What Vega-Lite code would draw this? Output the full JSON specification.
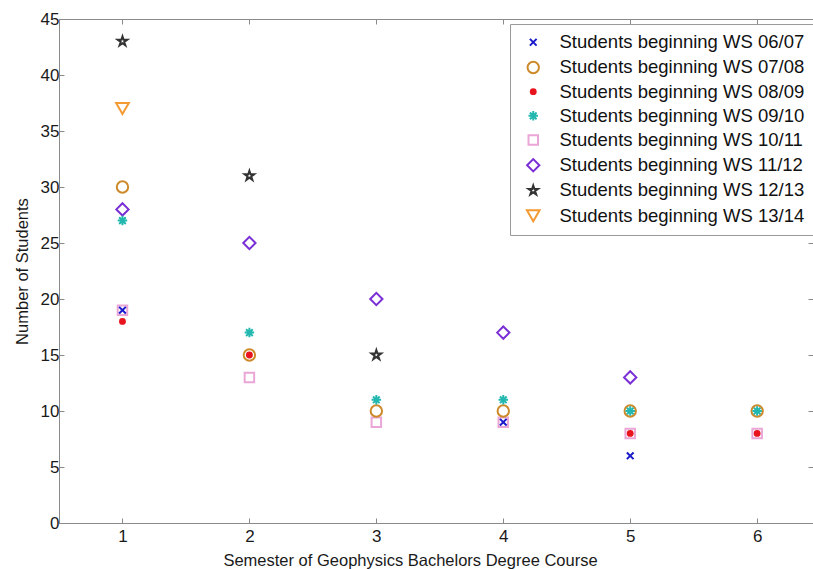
{
  "$schema": "https://vega.github.io/schema/vega-lite/v6.json",
  "width": 754,
  "height": 504,
  "autosize": {"type": "none"},
  "padding": {"left": 59, "top": 19, "right": 0, "bottom": 46},
  "background": "white",
  "config": {
    "font": "Liberation Sans",
    "view": {"stroke": "#8a8a8a", "strokeWidth": 1},
    "axis": {
      "labelFontSize": 17,
      "labelColor": "#1a1a1a",
      "titleFontSize": 16.5,
      "titleFontWeight": "normal",
      "titleColor": "#1a1a1a",
      "domainColor": "#8a8a8a",
      "tickColor": "#8a8a8a",
      "grid": false
    },
    "legend": {
      "orient": "none",
      "legendX": 451,
      "legendY": 5,
      "fillColor": "white",
      "strokeColor": "#999999",
      "padding": 9,
      "labelFontSize": 18.5,
      "labelColor": "#111111",
      "labelLimit": 500,
      "rowPadding": 5.2,
      "symbolStrokeWidth": 2,
      "labelOffset": 17,
      "symbolOffset": 5
    }
  },
  "data": {
    "values": [
      {"s": "Students beginning WS 10/11", "sem": 1, "n": 19},
      {"s": "Students beginning WS 10/11", "sem": 2, "n": 13},
      {"s": "Students beginning WS 10/11", "sem": 3, "n": 9},
      {"s": "Students beginning WS 10/11", "sem": 4, "n": 9},
      {"s": "Students beginning WS 10/11", "sem": 5, "n": 8},
      {"s": "Students beginning WS 10/11", "sem": 6, "n": 8},
      {"s": "Students beginning WS 07/08", "sem": 1, "n": 30},
      {"s": "Students beginning WS 07/08", "sem": 2, "n": 15},
      {"s": "Students beginning WS 07/08", "sem": 3, "n": 10},
      {"s": "Students beginning WS 07/08", "sem": 4, "n": 10},
      {"s": "Students beginning WS 07/08", "sem": 5, "n": 10},
      {"s": "Students beginning WS 07/08", "sem": 6, "n": 10},
      {"s": "Students beginning WS 11/12", "sem": 1, "n": 28},
      {"s": "Students beginning WS 11/12", "sem": 2, "n": 25},
      {"s": "Students beginning WS 11/12", "sem": 3, "n": 20},
      {"s": "Students beginning WS 11/12", "sem": 4, "n": 17},
      {"s": "Students beginning WS 11/12", "sem": 5, "n": 13},
      {"s": "Students beginning WS 12/13", "sem": 1, "n": 43},
      {"s": "Students beginning WS 12/13", "sem": 2, "n": 31},
      {"s": "Students beginning WS 12/13", "sem": 3, "n": 15},
      {"s": "Students beginning WS 13/14", "sem": 1, "n": 37},
      {"s": "Students beginning WS 09/10", "sem": 1, "n": 27},
      {"s": "Students beginning WS 09/10", "sem": 2, "n": 17},
      {"s": "Students beginning WS 09/10", "sem": 3, "n": 11},
      {"s": "Students beginning WS 09/10", "sem": 4, "n": 11},
      {"s": "Students beginning WS 09/10", "sem": 5, "n": 10},
      {"s": "Students beginning WS 09/10", "sem": 6, "n": 10},
      {"s": "Students beginning WS 08/09", "sem": 1, "n": 18},
      {"s": "Students beginning WS 08/09", "sem": 2, "n": 15},
      {"s": "Students beginning WS 08/09", "sem": 5, "n": 8},
      {"s": "Students beginning WS 08/09", "sem": 6, "n": 8},
      {"s": "Students beginning WS 06/07", "sem": 1, "n": 19},
      {"s": "Students beginning WS 06/07", "sem": 4, "n": 9},
      {"s": "Students beginning WS 06/07", "sem": 5, "n": 6}
    ]
  },
  "layer": [
    {
      "mark": {"type": "point", "strokeWidth": 2, "opacity": 1},
      "encoding": {
        "x": {
          "field": "sem", "type": "quantitative",
          "scale": {"domain": [0.5, 6.44], "nice": false, "zero": false},
          "axis": {"values": [1, 2, 3, 4, 5, 6], "format": "d", "tickSize": -5, "labelPadding": 10, "title": "Semester of Geophysics Bachelors Degree Course", "titlePadding": 8, "titleX": 351}
        },
        "y": {
          "field": "n", "type": "quantitative",
          "scale": {"domain": [0, 45], "nice": false},
          "axis": {"values": [0, 5, 10, 15, 20, 25, 30, 35, 40, 45], "tickSize": -5, "labelPadding": 5, "title": "Number of Students", "titlePadding": 10}
        },
        "shape": {
          "field": "s", "type": "nominal",
          "scale": {
            "domain": ["Students beginning WS 06/07", "Students beginning WS 07/08", "Students beginning WS 08/09", "Students beginning WS 09/10", "Students beginning WS 10/11", "Students beginning WS 11/12", "Students beginning WS 12/13", "Students beginning WS 13/14"],
            "range": [
              "M-0.75,-0.75L0.75,0.75M-0.75,0.75L0.75,-0.75",
              "circle",
              "circle",
              "M0,-1L0,1M-1,0L1,0M-0.7,-0.7L0.7,0.7M-0.7,0.7L0.7,-0.7",
              "square",
              "diamond",
              "M0,-1L0.225,-0.309L0.951,-0.309L0.363,0.118L0.588,0.809L0,0.382L-0.588,0.809L-0.363,0.118L-0.951,-0.309L-0.225,-0.309Z",
              "triangle-down"
            ]
          },
          "legend": {"title": null}
        },
        "stroke": {
          "field": "s", "type": "nominal",
          "scale": {
            "domain": ["Students beginning WS 06/07", "Students beginning WS 07/08", "Students beginning WS 08/09", "Students beginning WS 09/10", "Students beginning WS 10/11", "Students beginning WS 11/12", "Students beginning WS 12/13", "Students beginning WS 13/14"],
            "range": ["#1a1acc", "#cc8a2a", "#e8141e", "#22b8b0", "#eaa6d6", "#7a2ed6", "#333333", "#f39a32"]
          },
          "legend": {"title": null}
        },
        "fill": {
          "field": "s", "type": "nominal",
          "scale": {
            "domain": ["Students beginning WS 06/07", "Students beginning WS 07/08", "Students beginning WS 08/09", "Students beginning WS 09/10", "Students beginning WS 10/11", "Students beginning WS 11/12", "Students beginning WS 12/13", "Students beginning WS 13/14"],
            "range": ["transparent", "transparent", "#e8141e", "transparent", "transparent", "transparent", "transparent", "transparent"]
          },
          "legend": {"title": null}
        },
        "size": {
          "field": "s", "type": "nominal",
          "scale": {
            "type": "ordinal",
            "domain": ["Students beginning WS 06/07", "Students beginning WS 07/08", "Students beginning WS 08/09", "Students beginning WS 09/10", "Students beginning WS 10/11", "Students beginning WS 11/12", "Students beginning WS 12/13", "Students beginning WS 13/14"],
            "range": [80, 130, 24, 90, 90, 150, 100, 160]
          },
          "legend": {"title": null}
        }
      }
    },
    {
      "mark": {"type": "point", "opacity": 0},
      "encoding": {
        "x": {
          "field": "sem", "type": "quantitative",
          "axis": {"orient": "top", "values": [1, 2, 3, 4, 5, 6], "labels": false, "domain": false, "tickSize": -5, "title": null}
        },
        "y": {
          "field": "n", "type": "quantitative",
          "axis": {"orient": "right", "values": [0, 5, 10, 15, 20, 25, 30, 35, 40, 45], "labels": false, "domain": false, "tickSize": -5, "title": null}
        }
      }
    }
  ],
  "resolve": {"axis": {"x": "independent", "y": "independent"}}
}
